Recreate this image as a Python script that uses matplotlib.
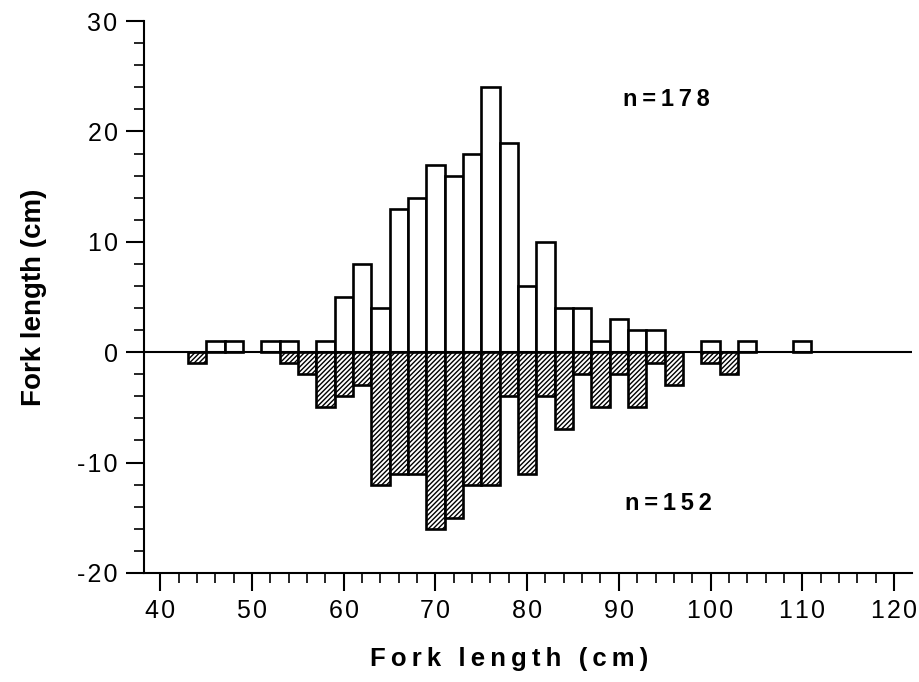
import matplotlib
matplotlib.use("Agg")
import matplotlib.pyplot as plt
from matplotlib.ticker import FuncFormatter
import numpy as np

plt.rcParams["font.family"] = ["Liberation Sans", "DejaVu Sans"]
plt.rcParams["hatch.linewidth"] = 1.0
plt.rcParams["axes.unicode_minus"] = False

# 2 cm length classes (bin centres)
bin_centers = np.arange(44, 112, 2)
upper_counts = [0, 1, 1, 0, 1, 1, 0, 1, 5, 8, 4, 13, 14, 17, 16, 18, 24,
                19, 6, 10, 4, 4, 1, 3, 2, 2, 0, 0, 1, 0, 1, 0, 0, 1]
lower_counts = [1, 0, 0, 0, 0, 1, 2, 5, 4, 3, 12, 11, 11, 16, 15, 12, 12,
                4, 11, 4, 7, 2, 5, 2, 5, 1, 3, 0, 1, 2, 0, 0, 0, 0]
upper_label = "n=178"
lower_label = "n=152"


def spaced(text, gap="\u2009"):
    return gap.join(text)


fig = plt.figure(figsize=(9.2, 6.82), dpi=100)
ax = fig.add_axes([0.1565, 0.16, 0.835, 0.809])

up = np.array(upper_counts)
lo = -np.array(lower_counts)
m = up > 0
ax.bar(bin_centers[m], up[m], width=2, color="white", edgecolor="black",
       linewidth=1.9, zorder=2)
m = lo < 0
ax.bar(bin_centers[m], lo[m], width=2, color="white", edgecolor="black",
       linewidth=1.9, hatch="///////", zorder=2)
ax.axhline(0, color="black", linewidth=1.5, zorder=3)

ax.set_xlim(38.2, 122)
ax.set_ylim(-20, 30)
ax.set_xticks(np.arange(40, 121, 10))
ax.set_xticks(np.arange(40, 122, 2), minor=True)
ax.set_yticks(np.arange(-20, 31, 10))
ax.set_yticks(np.arange(-20, 31, 2), minor=True)
fmt = FuncFormatter(lambda v, pos: spaced(str(int(round(v))), "\u200a"))
ax.xaxis.set_major_formatter(fmt)
ax.yaxis.set_major_formatter(fmt)

for side in ("top", "right"):
    ax.spines[side].set_visible(False)
for side in ("left", "bottom"):
    ax.spines[side].set_linewidth(1.5)

ax.tick_params(axis="both", which="major", length=13, width=1.5,
               labelsize=18, pad=6)
ax.tick_params(axis="both", which="minor", length=7, width=1.2)

ax.set_xlabel(spaced("Fork length (cm)"), fontsize=18.5, fontweight="bold")
ax.xaxis.set_label_coords(0.475, -0.135)
ax.set_ylabel("Fork length (cm)", fontsize=20, fontweight="bold",
              labelpad=22)

ax.text(95.2, 22.9, spaced(upper_label), fontsize=17, fontweight="bold",
        ha="center", va="center")
ax.text(95.4, -13.7, spaced(lower_label), fontsize=17, fontweight="bold",
        ha="center", va="center")

fig.savefig("out.png", dpi=100)
